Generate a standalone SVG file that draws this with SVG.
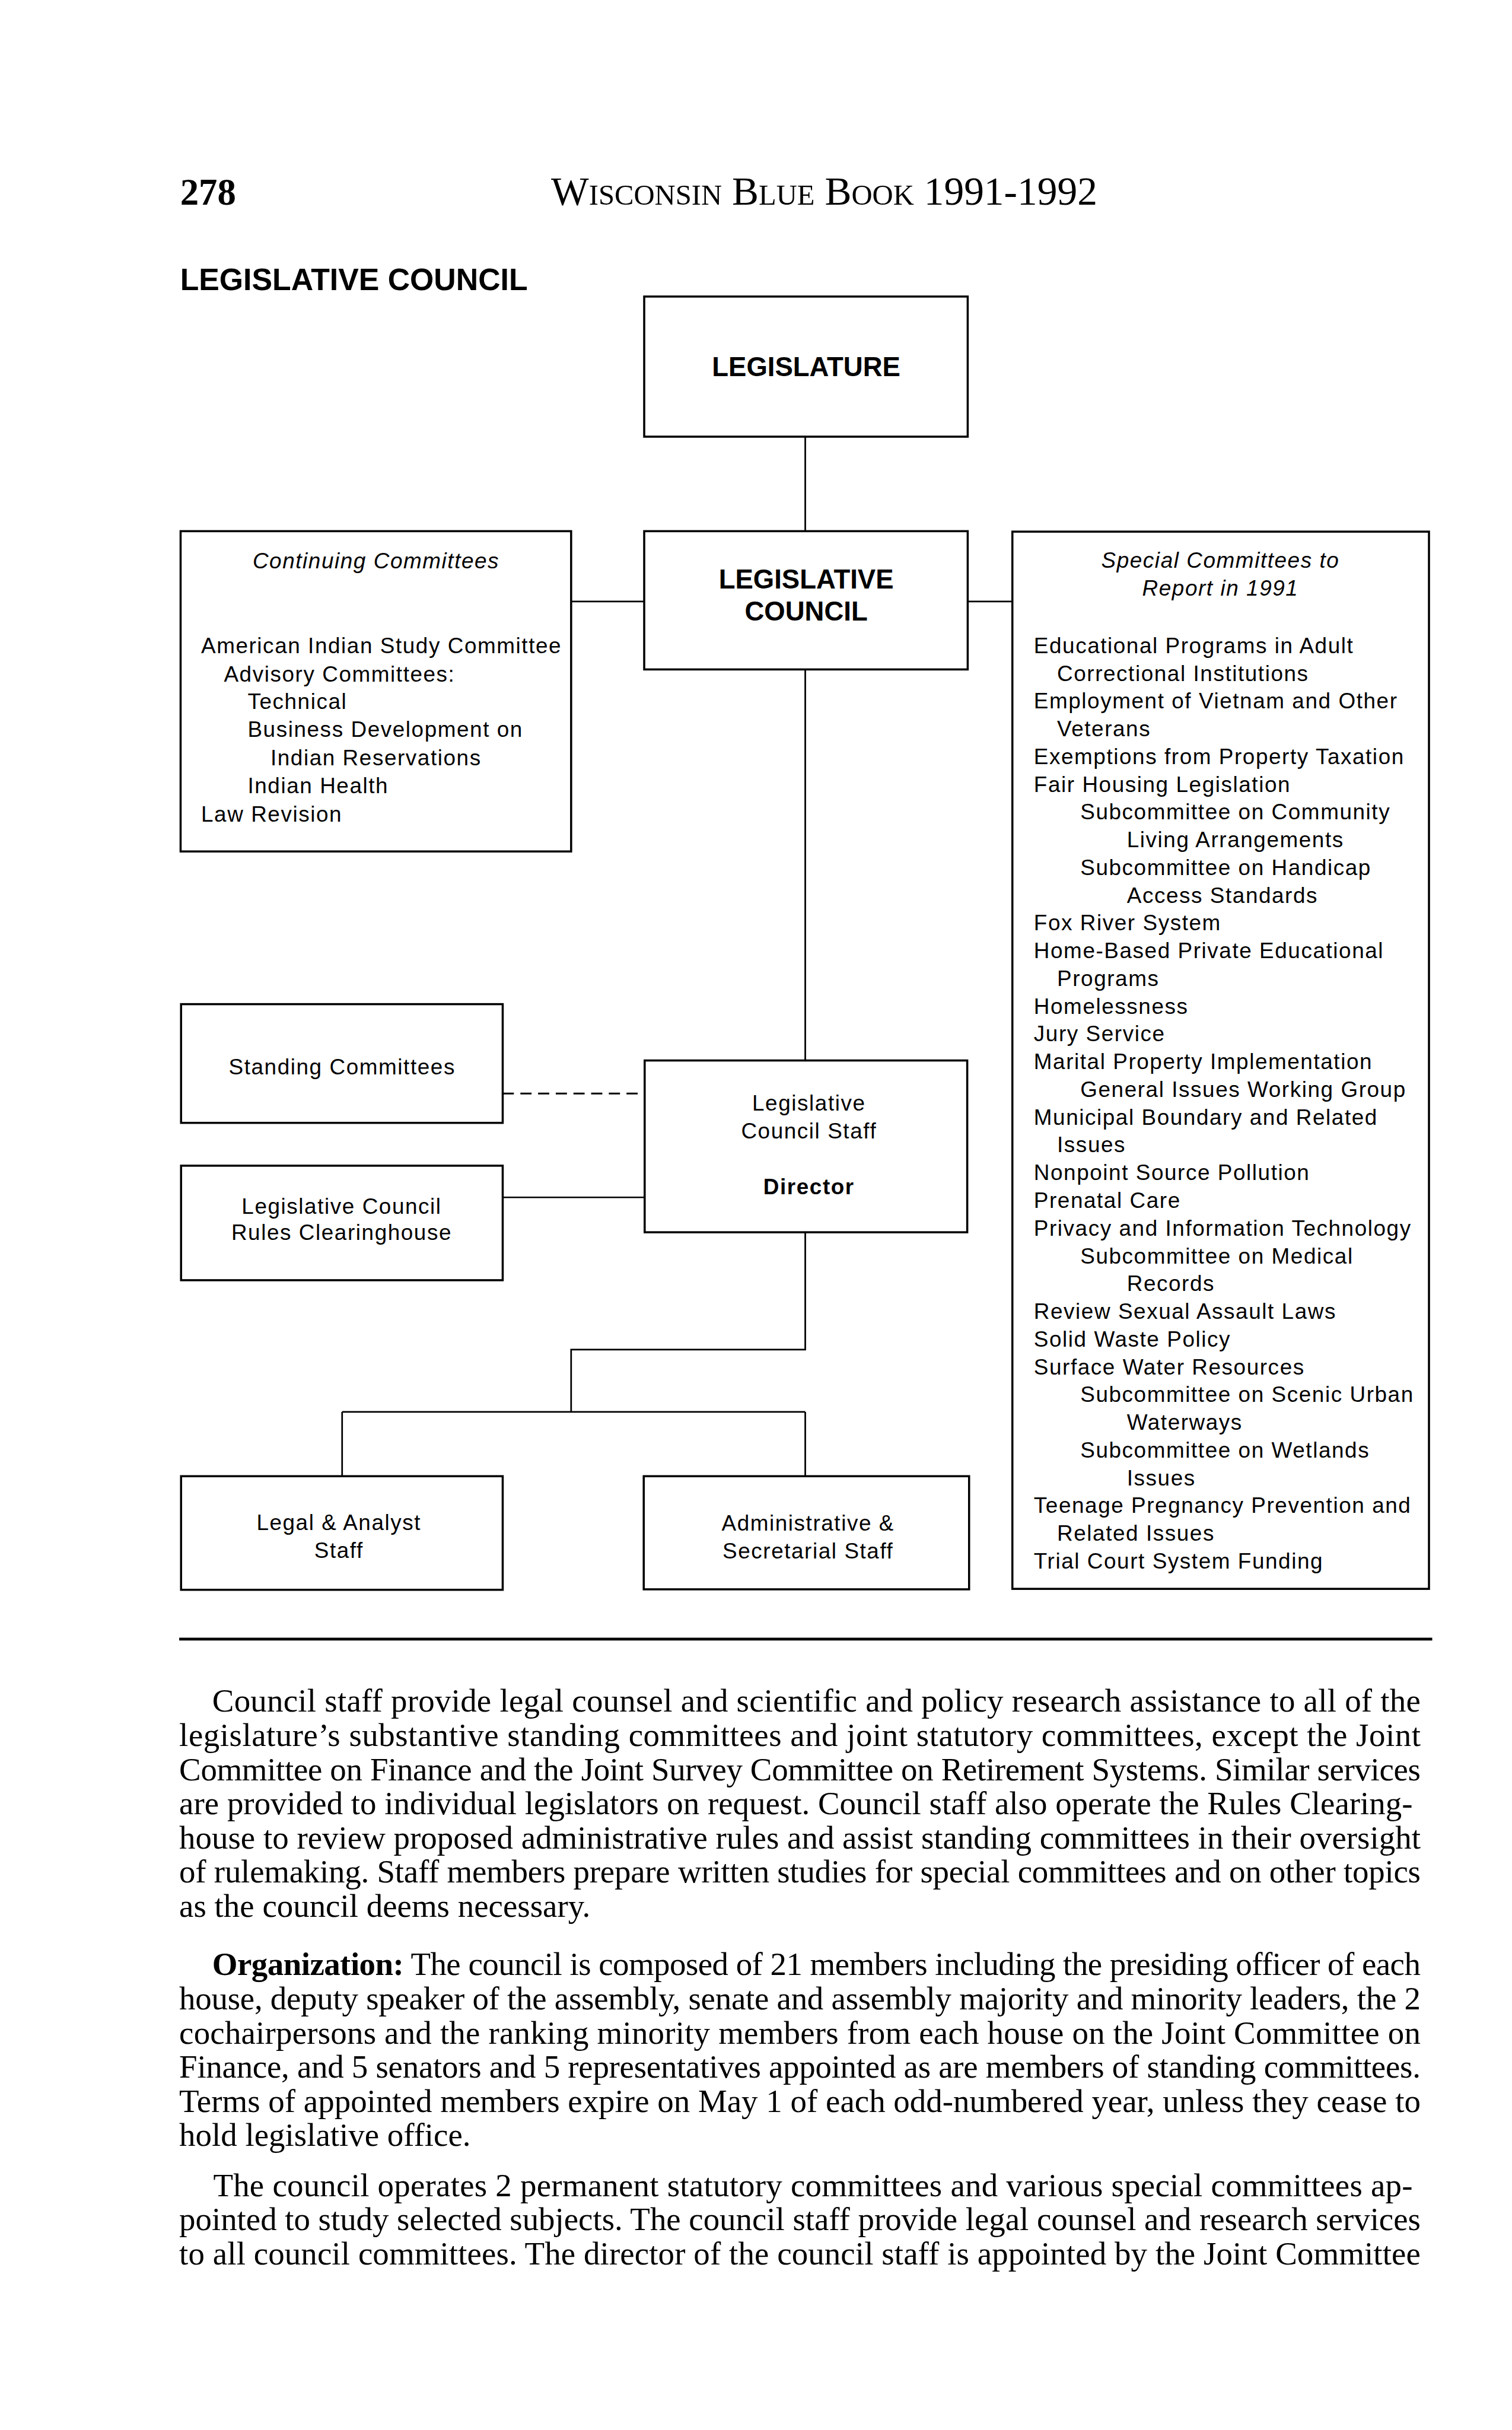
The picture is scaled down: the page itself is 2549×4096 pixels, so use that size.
<svg xmlns="http://www.w3.org/2000/svg" width="2549" height="4096" viewBox="0 0 2549 4096">
<style>
.box{fill:#fff;stroke:#000;stroke-width:4.5}
.ln{fill:none;stroke:#000;stroke-width:3.5}
.dash{fill:none;stroke:#000;stroke-width:4;stroke-dasharray:24 14}
.t{font-family:"Liberation Sans",Arial,Helvetica,sans-serif;font-size:47px;letter-spacing:2px;fill:#000}
.c{text-anchor:middle}
.b{font-weight:bold}
.i{font-style:italic}
.h{font-family:"Liberation Sans",Arial,Helvetica,sans-serif;font-weight:bold;font-size:58px;text-anchor:middle;fill:#000}
.body{font-family:"Liberation Serif","Times New Roman",serif;font-size:70px;fill:#000}
.hd{font-family:"Liberation Serif","Times New Roman",serif;fill:#000}
.sc{font-size:62px}
</style>
<rect x="0" y="0" width="2549" height="4096" fill="#fff"/>
<g transform="scale(0.7847)">
  <g id="header">
    <text class="hd" x="387" y="440" font-size="80" font-weight="bold">278</text>
    <text class="hd" x="1184" y="440" font-size="86">W<tspan class="sc">ISCONSIN</tspan> B<tspan class="sc">LUE</tspan> B<tspan class="sc">OOK</tspan> 1991-1992</text>
    <text x="387" y="623" font-family="Liberation Sans, Arial, sans-serif" font-weight="bold" font-size="66">LEGISLATIVE COUNCIL</text>
  </g>

  <g id="connectors">
    <line class="ln" x1="1730" y1="938" x2="1730" y2="1141"/>
    <line class="ln" x1="1227" y1="1292" x2="1384" y2="1292"/>
    <line class="ln" x1="2079" y1="1292" x2="2175" y2="1292"/>
    <line class="ln" x1="1730" y1="1438" x2="1730" y2="2278"/>
    <line class="dash" x1="1080" y1="2349" x2="1385" y2="2349"/>
    <line class="ln" x1="1080" y1="2572" x2="1385" y2="2572"/>
    <polyline class="ln" points="1730,2647 1730,2899 1227,2899 1227,3033"/>
    <line class="ln" x1="735" y1="3033" x2="1730" y2="3033" stroke-width="5"/>
    <line class="ln" x1="735" y1="3033" x2="735" y2="3171"/>
    <line class="ln" x1="1730" y1="3033" x2="1730" y2="3171"/>
  </g>

  <g id="legislature">
    <rect class="box" x="1384" y="637" width="695" height="301"/>
    <text class="h" x="1732" y="808">LEGISLATURE</text>
  </g>

  <g id="legislative-council">
    <rect class="box" x="1384" y="1141" width="695" height="297"/>
    <text class="h" x="1732" y="1264">LEGISLATIVE</text>
    <text class="h" x="1732" y="1333">COUNCIL</text>
  </g>

  <g id="continuing-committees">
    <rect class="box" x="388" y="1141" width="839" height="688"/>
    <text class="t i c" x="808" y="1221">Continuing Committees</text>
    <text class="t" x="432" y="1403">American Indian Study Committee</text>
    <text class="t" x="481" y="1464">Advisory Committees:</text>
    <text class="t" x="532" y="1523">Technical</text>
    <text class="t" x="532" y="1583">Business Development on</text>
    <text class="t" x="581" y="1644">Indian Reservations</text>
    <text class="t" x="532" y="1704">Indian Health</text>
    <text class="t" x="432" y="1765">Law Revision</text>
  </g>

  <g id="special-committees">
    <rect class="box" x="2175" y="1142" width="895" height="2271"/>
    <text class="t i c" x="2622" y="1220">Special Committees to</text>
    <text class="t i c" x="2622" y="1279">Report in 1991</text>
    <text class="t" x="2221" y="1403">Educational Programs in Adult</text>
    <text class="t" x="2271" y="1462.6">Correctional Institutions</text>
    <text class="t" x="2221" y="1522.2">Employment of Vietnam and Other</text>
    <text class="t" x="2271" y="1581.7">Veterans</text>
    <text class="t" x="2221" y="1641.3">Exemptions from Property Taxation</text>
    <text class="t" x="2221" y="1700.9">Fair Housing Legislation</text>
    <text class="t" x="2321" y="1760.5">Subcommittee on Community</text>
    <text class="t" x="2421" y="1820.1">Living Arrangements</text>
    <text class="t" x="2321" y="1879.6">Subcommittee on Handicap</text>
    <text class="t" x="2421" y="1939.2">Access Standards</text>
    <text class="t" x="2221" y="1998.8">Fox River System</text>
    <text class="t" x="2221" y="2058.4">Home-Based Private Educational</text>
    <text class="t" x="2271" y="2118">Programs</text>
    <text class="t" x="2221" y="2177.5">Homelessness</text>
    <text class="t" x="2221" y="2237.1">Jury Service</text>
    <text class="t" x="2221" y="2296.7">Marital Property Implementation</text>
    <text class="t" x="2321" y="2356.3">General Issues Working Group</text>
    <text class="t" x="2221" y="2415.9">Municipal Boundary and Related</text>
    <text class="t" x="2271" y="2475.4">Issues</text>
    <text class="t" x="2221" y="2535">Nonpoint Source Pollution</text>
    <text class="t" x="2221" y="2594.6">Prenatal Care</text>
    <text class="t" x="2221" y="2654.2">Privacy and Information Technology</text>
    <text class="t" x="2321" y="2713.8">Subcommittee on Medical</text>
    <text class="t" x="2421" y="2773.3">Records</text>
    <text class="t" x="2221" y="2832.9">Review Sexual Assault Laws</text>
    <text class="t" x="2221" y="2892.5">Solid Waste Policy</text>
    <text class="t" x="2221" y="2952.1">Surface Water Resources</text>
    <text class="t" x="2321" y="3011.7">Subcommittee on Scenic Urban</text>
    <text class="t" x="2421" y="3071.2">Waterways</text>
    <text class="t" x="2321" y="3130.8">Subcommittee on Wetlands</text>
    <text class="t" x="2421" y="3190.4">Issues</text>
    <text class="t" x="2221" y="3250">Teenage Pregnancy Prevention and</text>
    <text class="t" x="2271" y="3309.6">Related Issues</text>
    <text class="t" x="2221" y="3369.1">Trial Court System Funding</text>
  </g>

  <g id="standing-committees">
    <rect class="box" x="389" y="2157" width="691" height="255"/>
    <text class="t c" x="735" y="2308">Standing Committees</text>
  </g>

  <g id="council-staff">
    <rect class="box" x="1385" y="2278" width="693" height="369"/>
    <text class="t c" x="1738" y="2385">Legislative</text>
    <text class="t c" x="1738" y="2446">Council Staff</text>
    <text class="t c b" x="1738" y="2565">Director</text>
  </g>

  <g id="rules-clearinghouse">
    <rect class="box" x="389" y="2504" width="691" height="246"/>
    <text class="t c" x="734" y="2607">Legislative Council</text>
    <text class="t c" x="734" y="2664">Rules Clearinghouse</text>
  </g>

  <g id="legal-analyst-staff">
    <rect class="box" x="389" y="3171" width="691" height="244"/>
    <text class="t c" x="728" y="3287">Legal &amp; Analyst</text>
    <text class="t c" x="728" y="3347">Staff</text>
  </g>

  <g id="admin-secretarial-staff">
    <rect class="box" x="1383" y="3171" width="699" height="243"/>
    <text class="t c" x="1736" y="3288">Administrative &amp;</text>
    <text class="t c" x="1736" y="3348">Secretarial Staff</text>
  </g>

  <g id="body-text">
    <line x1="385" y1="3521" x2="3077" y2="3521" stroke="#000" stroke-width="6"/>
    <text class="body" x="456" y="3677" textLength="2596" lengthAdjust="spacing">Council staff provide legal counsel and scientific and policy research assistance to all of the</text>
    <text class="body" x="385" y="3750.4" textLength="2667" lengthAdjust="spacing">legislature’s substantive standing committees and joint statutory committees, except the Joint</text>
    <text class="body" x="385" y="3823.8" textLength="2667" lengthAdjust="spacing">Committee on Finance and the Joint Survey Committee on Retirement Systems.  Similar services</text>
    <text class="body" x="385" y="3897.2" textLength="2650" lengthAdjust="spacing">are provided to individual legislators on request.  Council staff also operate the Rules Clearing-</text>
    <text class="body" x="385" y="3970.6" textLength="2667" lengthAdjust="spacing">house to review proposed administrative rules and assist standing committees in their oversight</text>
    <text class="body" x="385" y="4044" textLength="2667" lengthAdjust="spacing">of rulemaking. Staff members prepare written studies for special committees and on other topics</text>
    <text class="body" x="385" y="4117.4">as the council deems necessary.</text>

    <text class="body" x="456" y="4243" textLength="2596" lengthAdjust="spacing"><tspan font-weight="bold">Organization:</tspan> The council is composed of 21 members including the presiding officer of each</text>
    <text class="body" x="385" y="4316.4" textLength="2667" lengthAdjust="spacing">house, deputy speaker of the assembly, senate and assembly majority and minority leaders, the 2</text>
    <text class="body" x="385" y="4389.8" textLength="2667" lengthAdjust="spacing">cochairpersons and the ranking minority members from each house on the Joint Committee on</text>
    <text class="body" x="385" y="4463.2" textLength="2667" lengthAdjust="spacing">Finance, and 5 senators and 5 representatives appointed as are members of standing committees.</text>
    <text class="body" x="385" y="4536.6" textLength="2667" lengthAdjust="spacing">Terms of appointed members expire on May 1 of each odd-numbered year, unless they cease to</text>
    <text class="body" x="385" y="4610">hold legislative office.</text>

    <text class="body" x="458" y="4718" textLength="2577" lengthAdjust="spacing">The council operates 2 permanent statutory committees and various special committees ap-</text>
    <text class="body" x="385" y="4791" textLength="2667" lengthAdjust="spacing">pointed to study selected subjects.  The council staff provide legal counsel and research services</text>
    <text class="body" x="385" y="4864" textLength="2667" lengthAdjust="spacing">to all council committees.  The director of the council staff is appointed by the Joint Committee</text>
  </g>
</g>
</svg>
